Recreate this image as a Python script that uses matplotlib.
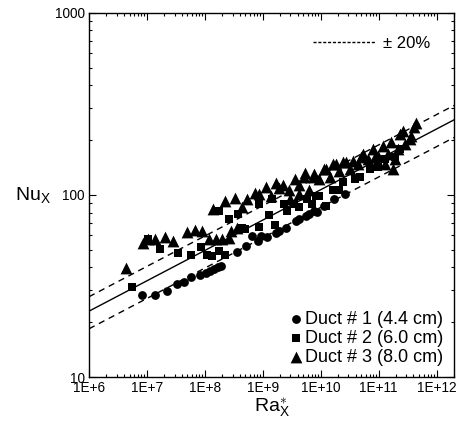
import numpy as np
import matplotlib
matplotlib.use("Agg")
import matplotlib.pyplot as plt
from matplotlib.lines import Line2D
from matplotlib.ticker import LogLocator, FuncFormatter, NullFormatter

plt.rcParams['font.family'] = ['Liberation Sans', 'DejaVu Sans']
plt.rcParams['mathtext.fontset'] = 'custom'
plt.rcParams['mathtext.rm'] = 'Liberation Sans'
plt.rcParams['mathtext.it'] = 'Liberation Sans'

# Duct #1 (4.4 cm) - circles
duct1_ra = [8.2e6, 1.39e7, 2.23e7, 3.33e7, 4.4e7, 5.75e7, 8.3e7, 1.04e8, 1.22e8, 1.45e8,
            1.71e8, 1.9e8, 3.64e8, 5.14e8, 6.53e8, 8.4e8, 1.2e9, 1.72e9, 2.56e9, 3.77e9,
            5.6e9, 7.8e9, 1.16e10, 1.73e10, 2.58e10,
            9.35e8, 1.94e9, 4.3e9, 6.4e9, 8.8e9]
duct1_nu = [28.3, 28.1, 29.8, 32.5, 33.2, 35.6, 36.5, 37.4, 38.0, 39.4,
            40.4, 40.9, 48.4, 52.2, 59.8, 56.1, 59.0, 62.1, 66.2, 71.7,
            76.4, 81.4, 86.5, 94.5, 100.6,
            59.3, 63.2, 73.3, 78.2, 80.2]

# Duct #2 (6.0 cm) - squares
duct2_ra = [5.6e6, 1.05e7, 1.69e7, 3.43e7, 5.75e7, 8.67e7, 1.1e8, 1.33e8, 1.77e8, 2.25e8,
            2.64e8, 3.68e8, 5.0e8, 1.77e8, 8.7e8, 1.65e9, 8.7e8, 1.3e9, 2.37e9, 4.3e9,
            7.2e9, 9.5e9, 1.24e10, 2.1e10, 3.85e10, 7.0e10, 1.27e11, 2.3e11,
            1.47e9, 2.67e9, 4.43e8, 8.36e9, 1.6e10, 2.38e10, 4.69e10, 9.6e10, 1.89e11,
            5.9e9, 3.52e9]
duct2_nu = [31.3, 56.9, 50.7, 47.8, 47.0, 52.0, 47.0, 46.0, 49.0, 46.5,
            73.6, 78.4, 65.3, 81.4, 67.0, 68.7, 88.7, 77.4, 88.7, 85.3,
            88.7, 98.5, 86.7, 107, 122, 138, 157, 178,
            94.5, 81.1, 66.2, 98.4, 107, 117, 125, 142, 161,
            94.5, 88.7]

# Duct #3 (8.0 cm) - triangles
duct3_ra = [4.4e6, 8.7e6, 1.05e7, 1.39e7, 2.07e7, 2.84e7, 4.82e7, 6.82e7, 9.1e7, 1.19e8,
            1.56e8, 1.98e8, 2.64e8, 1.4e8, 2.23e8, 3.32e8, 4.39e8, 7.45e8, 1.14e9, 1.7e9,
            2.27e9, 3.66e9, 5.46e9, 7.8e9, 1.39e9, 1.94e9, 5.25e9, 7.8e9, 1.16e10, 1.6e10,
            2.38e10, 3.55e10, 5.0e10, 7.9e10, 9.6e10, 1.17e11, 1.27e11, 1.66e11, 1.75e11,
            2.6e11, 3.68e11, 4.49e11, 2.9e9, 4.3e9, 6.4e9,
            1.24e10, 1.85e10, 2.76e10, 5.28e10, 3.44e11, 2.13e11, 2.82e11, 1.43e11, 6.46e10,
            3.15e10, 2.11e10, 9.5e9, 4.3e9, 2.88e9, 8.7e8, 5.4e8, 1.42e10, 4.34e10, 8.5e10,
            1.89e11, 4.04e11, 2.31e11, 2.86e8, 3.64e8]
duct3_nu = [39.9, 54.1, 56.9, 56.9, 59.0, 55.6, 62.4, 64.5, 63.2, 56.9,
            56.9, 56.9, 58.3, 84.0, 92.1, 95.7, 85.3, 101.9, 110, 115.6,
            112.8, 121.7, 131.3, 124.8, 98.5, 108.6, 124.8, 129.7, 138, 147,
            151, 153.5, 161, 178, 164, 186, 147, 195, 139,
            224, 211, 248, 94.5, 100.6, 107,
            138, 147, 151, 167, 202, 178, 190, 167, 157,
            139, 135, 122, 114, 107, 101, 94.5, 125, 147, 161,
            157, 236, 215, 63.0, 66.2]

labels = ['Duct # 1 (4.4 cm)', 'Duct # 2 (6.0 cm)', 'Duct # 3 (8.0 cm)']

# Correlation line Nu = C * Ra^n, with +/-20 % band
corr_c = 2.3
corr_n = 1.0 / 6.0
band = 0.20

fig = plt.figure(figsize=(4.59, 4.26), dpi=100)
ax = fig.add_axes([0.194, 0.115, 0.795, 0.855])

ra_line = np.logspace(6, np.log10(2e12), 200)
nu_line = corr_c * ra_line ** corr_n
ax.plot(ra_line, nu_line, color='black', lw=1.0)
ax.plot(ra_line, nu_line * (1 + band), color='black', lw=1.0, dashes=(4.5, 3.5))
ax.plot(ra_line, nu_line * (1 - band), color='black', lw=1.0, dashes=(4.5, 3.5))

s1 = ax.scatter(duct1_ra, duct1_nu, marker='o', s=40, color='black', linewidths=0, zorder=3)
s2 = ax.scatter(duct2_ra, duct2_nu, marker='s', s=38, color='black', linewidths=0, zorder=3)
s3 = ax.scatter(duct3_ra, duct3_nu, marker='^', s=72, color='black', linewidths=0, zorder=4)

ax.set_xscale('log')
ax.set_yscale('log')
ax.set_xlim(1e6, 2e12)
ax.set_ylim(10, 1000)

ax.xaxis.set_major_locator(LogLocator(base=10, numticks=20))
ax.xaxis.set_minor_locator(LogLocator(base=10, subs=np.arange(2, 10), numticks=20))
ax.yaxis.set_major_locator(LogLocator(base=10, numticks=20))
ax.yaxis.set_minor_locator(LogLocator(base=10, subs=np.arange(2, 10), numticks=20))
ax.xaxis.set_major_formatter(FuncFormatter(lambda v, p: '1E+%d' % round(np.log10(v))))
ax.yaxis.set_major_formatter(FuncFormatter(lambda v, p: '%d' % round(v)))
ax.xaxis.set_minor_formatter(NullFormatter())
ax.yaxis.set_minor_formatter(NullFormatter())
ax.tick_params(which='both', direction='in', top=True, right=True, labelsize=9.8, width=0.8)
ax.tick_params(which='major', length=5, pad=3)
ax.tick_params(which='minor', length=2.5)
for sp in ax.spines.values():
    sp.set_linewidth(1.0)

ax.set_xlabel(r'Ra$^{\ast}_{\mathregular{X}}$', fontsize=14, labelpad=1)
ax.set_ylabel(r'Nu$_{\mathregular{X}}$', fontsize=14, rotation=0, labelpad=16, va='center')

leg1 = ax.legend([s1, s2, s3], labels, loc='lower right', frameon=False, fontsize=13,
                 handletextpad=0.1, labelspacing=0.12, borderaxespad=0.4, borderpad=0.2,
                 handlelength=0.8, scatterpoints=1)
ax.add_artist(leg1)
dash_handle = Line2D([], [], color='black', lw=1.0, dashes=(2.2, 1.3))
ax.legend([dash_handle], [u'\u00b1 20%'], loc='upper right', frameon=False, fontsize=12,
          handlelength=3.7, handletextpad=0.5, borderaxespad=1.1, borderpad=0.3)

fig.savefig('out.png', dpi=100)
